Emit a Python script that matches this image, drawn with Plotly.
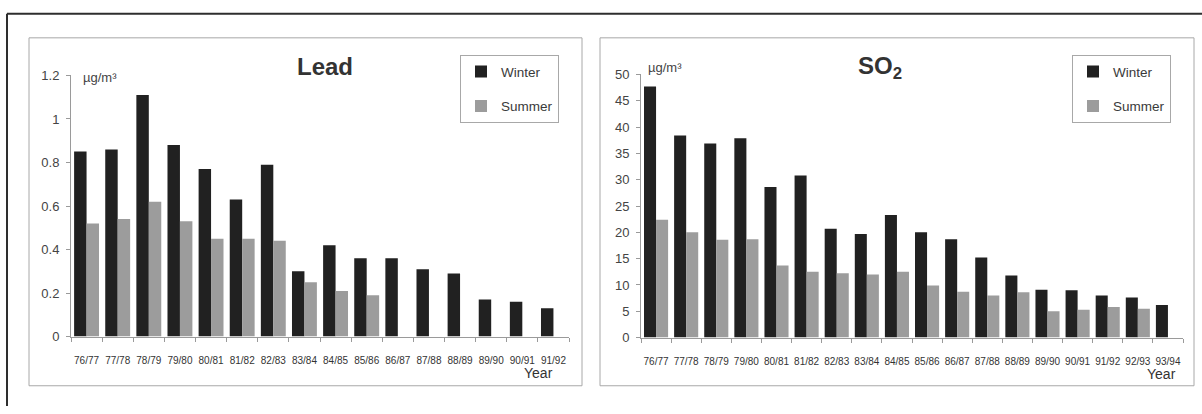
import plotly.graph_objects as go

# Season labels
lead_years = ["76/77", "77/78", "78/79", "79/80", "80/81", "81/82", "82/83", "83/84",
              "84/85", "85/86", "86/87", "87/88", "88/89", "89/90", "90/91", "91/92"]
so2_years = lead_years + ["92/93", "93/94"]

# Lead concentrations (µg/m³)
lead_winter = [0.85, 0.86, 1.11, 0.88, 0.77, 0.63, 0.79, 0.30,
               0.42, 0.36, 0.36, 0.31, 0.29, 0.17, 0.16, 0.13]
lead_summer = [0.52, 0.54, 0.62, 0.53, 0.45, 0.45, 0.44, 0.25,
               0.21, 0.19, None, None, None, None, None, None]

# SO2 concentrations (µg/m³)
so2_winter = [47.7, 38.4, 36.9, 37.9, 28.6, 30.8, 20.7, 19.7, 23.3,
              20.0, 18.7, 15.2, 11.8, 9.1, 9.0, 8.0, 7.6, 6.2]
so2_summer = [22.4, 20.0, 18.6, 18.7, 13.7, 12.5, 12.2, 12.0, 12.5,
              9.9, 8.7, 8.0, 8.6, 5.0, 5.3, 5.8, 5.5, None]

W, H = 1202, 414
FONT = "Arial, Liberation Sans, sans-serif"
WINTER = "#212121"
SUMMER = "#9c9c9c"


def fx(px):
    return px / W


def fy(py):
    return 1 - py / H


fig = go.Figure()

fig.add_trace(go.Bar(x=lead_years, y=lead_winter, name="Winter", marker_color=WINTER,
                     marker_line_width=0, xaxis="x", yaxis="y", legend="legend",
                     legendgroup="w"))
fig.add_trace(go.Bar(x=lead_years, y=lead_summer, name="Summer", marker_color=SUMMER,
                     marker_line_width=0, xaxis="x", yaxis="y", legend="legend",
                     legendgroup="s"))
fig.add_trace(go.Bar(x=so2_years, y=so2_winter, name="Winter", marker_color=WINTER,
                     marker_line_width=0, xaxis="x2", yaxis="y2", legend="legend2",
                     legendgroup="w2"))
fig.add_trace(go.Bar(x=so2_years, y=so2_summer, name="Summer", marker_color=SUMMER,
                     marker_line_width=0, xaxis="x2", yaxis="y2", legend="legend2",
                     legendgroup="s2"))

xcommon = dict(type="category", showgrid=False, zeroline=False, showline=True,
               linecolor="#9a9a9a", linewidth=1, ticks="outside", ticklen=4,
               tickcolor="#9a9a9a", tickson="boundaries", ticklabelstandoff=14,
               tickangle=0, fixedrange=True,
               tickfont=dict(family=FONT, size=10, color="#333333"))
ycommon = dict(showgrid=False, zeroline=False, showline=True, linecolor="#9a9a9a",
               linewidth=1, ticks="outside", ticklen=4, tickcolor="#9a9a9a",
               ticklabelstandoff=4,
               tickfont=dict(family=FONT, size=13, color="#444444"), fixedrange=True)

legend_common = dict(xanchor="left", yanchor="top", bgcolor="white",
                     bordercolor="#a8a8a8", borderwidth=1,
                     font=dict(family=FONT, size=13.5, color="#3a3a3a"),
                     traceorder="grouped", tracegroupgap=14)

fig.update_layout(
    width=W, height=H,
    margin=dict(l=0, r=0, t=0, b=0),
    paper_bgcolor="white", plot_bgcolor="white",
    barmode="group", bargap=0.2, bargroupgap=0.0,
    showlegend=True,
    xaxis=dict(domain=[fx(71), fx(569)], range=[-0.5, 15.5], anchor="y", **xcommon),
    yaxis=dict(domain=[fy(342), fy(71)], range=[0, 1.2], dtick=0.2, anchor="x",
               tickformat="~g", **ycommon),
    xaxis2=dict(domain=[fx(641), fx(1183)], range=[-0.5, 17.5], anchor="y2", **xcommon),
    yaxis2=dict(domain=[fy(343), fy(70)], range=[0, 50], dtick=5, anchor="x2", **ycommon),
    legend=dict(x=fx(460), y=fy(50), **legend_common),
    legend2=dict(x=fx(1072), y=fy(50), **legend_common),
)

# Outer frame and the two panel borders
fig.add_shape(type="line", xref="paper", yref="paper", x0=fx(7), x1=fx(7), y0=fy(7), y1=0,
              line=dict(color="#2e2e2e", width=2))
fig.add_shape(type="line", xref="paper", yref="paper", x0=fx(7), x1=1, y0=fy(7), y1=fy(7),
              line=dict(color="#2e2e2e", width=2))
for x0, x1 in [(29, 582), (600, 1194)]:
    fig.add_shape(type="rect", xref="paper", yref="paper", x0=fx(x0), x1=fx(x1),
                  y0=fy(393), y1=fy(32), line=dict(color="#a8a8a8", width=1),
                  layer="below")

# Titles, units and axis names
texts = [
    (325, 62, "<b>Lead</b>", 24, "#333333"),
    (880, 63, "<b>SO<sub>2</sub></b>", 24, "#333333"),
    (100, 73, "µg/m³", 13, "#444444"),
    (665, 63, "µg/m³", 13, "#444444"),
    (538, 380, "Year", 14, "#333333"),
    (1161, 381, "Year", 14, "#333333"),
]
for x, y, t, s, c in texts:
    fig.add_annotation(x=fx(x), y=fy(y), xref="paper", yref="paper", text=t,
                       showarrow=False, xanchor="center", yanchor="middle",
                       borderpad=0, font=dict(family=FONT, size=s, color=c))

fig.write_html("out.html")
